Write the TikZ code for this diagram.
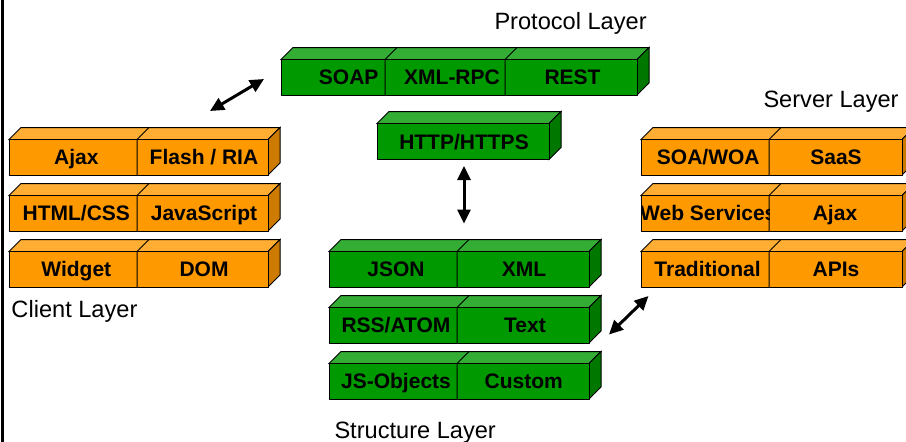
\documentclass[tikz,border=0pt]{standalone}
\usepackage{fontspec}
\setmainfont{Liberation Sans}
\usetikzlibrary{arrows.meta}
\definecolor{gF}{RGB}{0,153,0}
\definecolor{gT}{RGB}{51,173,51}
\definecolor{gS}{RGB}{0,120,0}
\definecolor{oF}{RGB}{255,153,0}
\definecolor{oT}{RGB}{255,173,51}
\definecolor{oS}{RGB}{204,122,0}
\newcommand\mkslab[6]{%
  \filldraw[fill=#5T] (#1,#3) -- (#1+12,#3-12) -- (#2+12,#3-12) -- (#2,#3) -- cycle;
  \filldraw[fill=#5S] (#2,#3) -- (#2+12,#3-12) -- (#2+12,#4-12) -- (#2,#4) -- cycle;
  \filldraw[fill=#5F] (#1,#3) rectangle (#2,#4);
  \foreach \d in {#6} {\draw (\d,#4) -- (\d,#3) -- (\d+12,#3-12);}%
}
\tikzset{
  lbl/.style={font=\fontsize{21}{25}\selectfont\bfseries, inner sep=0pt, text height=15pt, text depth=0pt, anchor=center},
  ttl/.style={font=\fontsize{23.6}{28}\selectfont, inner sep=0pt, anchor=base west},
  dbl/.style={line width=3pt, {Triangle[length=14pt,width=13pt]}-{Triangle[length=14pt,width=13pt]}}
}
\begin{document}
\begin{tikzpicture}[x=1pt,y=-1pt,line width=1pt]
\clip (0,0) rectangle (906,442);
\fill[white] (0,0) rectangle (906,442);
\draw[line width=3pt] (2.5,0) -- (2.5,442);
% Protocol layer
\mkslab{281}{637}{59.5}{95}{g}{385,505}
\mkslab{377}{549}{123.5}{159.5}{g}{}
% Client layer
\mkslab{9}{268}{139.5}{175}{o}{137}
\mkslab{9}{268}{195.5}{231}{o}{137}
\mkslab{9}{268}{251.5}{287}{o}{137}
% Server layer
\mkslab{641}{902}{139.5}{175}{o}{769}
\mkslab{641}{902}{195.5}{231}{o}{769}
\mkslab{641}{902}{251.5}{287}{o}{769}
% Structure layer
\mkslab{329}{589}{251.5}{287}{g}{457}
\mkslab{329}{589}{307.5}{343}{g}{457}
\mkslab{329}{589}{363.5}{399}{g}{457}
% labels
\node[lbl] (soap) at (348.7,77.2) {SOAP};
\node[lbl] (xmlrpc) at (452,77.2) {XML-RPC};
\node[lbl] (rest) at (572.5,77.2) {REST};
\node[lbl] (http) at (464,141.5) {HTTP/HTTPS};
\node[lbl] (ajaxc) at (76.3,157.2) {Ajax};
\node[lbl] (flash) at (204,157.2) {Flash / RIA};
\node[lbl] (html) at (76.3,213.2) {HTML/CSS};
\node[lbl] (js) at (204,213.2) {JavaScript};
\node[lbl] (widget) at (76.3,269.2) {Widget};
\node[lbl] (dom) at (204,269.2) {DOM};
\node[lbl] (soa) at (708.3,157.2) {SOA/WOA};
\node[lbl] (saas) at (836,157.2) {SaaS};
\begin{scope}
\clip (641,195.5) rectangle (769,231);
\node[lbl] (websvc) at (708.3,213.2) {Web Services};
\end{scope}
\node[lbl] (ajaxs) at (835,213.2) {Ajax};
\node[lbl] (trad) at (707.5,269.2) {Traditional};
\node[lbl] (apis) at (836,269.2) {APIs};
\node[lbl] (json) at (396,269.2) {JSON};
\node[lbl] (xml) at (524,269.2) {XML};
\node[lbl] (rss) at (396,325.2) {RSS/ATOM};
\node[lbl] (text) at (525,325.2) {Text};
\node[lbl] (jsobj) at (396,381.2) {JS-Objects};
\node[lbl] (custom) at (523.7,381.2) {Custom};
% layer titles
\node[ttl] (tprot) at (494,29) {Protocol Layer};
\node[ttl] (tserv) at (763,107) {Server Layer};
\node[ttl] (tclient) at (11,317) {Client Layer};
\node[ttl] (tstruct) at (334,438) {Structure Layer};
% arrows
\coordinate (a1s) at (210,111);
\coordinate (a1e) at (264,79);
\coordinate (a2s) at (464,166);
\coordinate (a2e) at (464,223.5);
\coordinate (a3s) at (609,334.5);
\coordinate (a3e) at (648.5,296);
\draw[dbl] (a1s) -- (a1e);
\draw[dbl] (a2s) -- (a2e);
\draw[dbl] (a3s) -- (a3e);
\end{tikzpicture}
\end{document}
